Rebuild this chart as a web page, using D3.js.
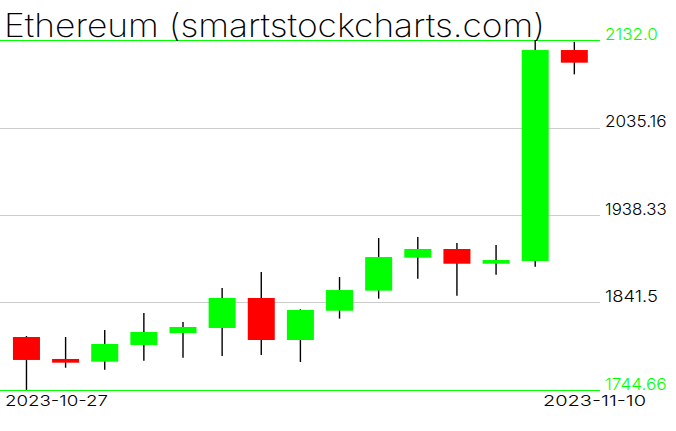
<!DOCTYPE html>
<html><head><meta charset="utf-8">
<script src="https://cdn.jsdelivr.net/npm/d3@7"></script>
<style>body{margin:0;background:#fff}svg{display:block}</style>
</head><body><svg id="c" width="676" height="431"></svg>
<script>
const dates = ["2023-10-27","2023-10-28","2023-10-29","2023-10-30","2023-10-31","2023-11-01","2023-11-02","2023-11-03","2023-11-04","2023-11-05","2023-11-06","2023-11-07","2023-11-08","2023-11-09","2023-11-10"];
const open  = [1803.3,1779.0,1776.0,1794.5,1807.7,1813.3,1846.5,1800.0,1832.4,1854.6,1891.1,1900.7,1884.4,1887.4,2120.9];
const high  = [1804.4,1803.3,1811.1,1829.9,1819.9,1857.5,1875.2,1834.0,1869.7,1912.9,1914.0,1907.3,1905.1,2132.0,2130.0];
const low   = [1744.66,1769.3,1767.1,1777.1,1780.4,1782.3,1783.4,1775.6,1823.6,1845.7,1867.8,1849.0,1872.3,1881.1,2094.0];
const close = [1777.9,1774.9,1795.6,1808.9,1814.4,1846.5,1800.0,1833.2,1855.3,1891.8,1900.7,1884.4,1888.5,2120.9,2106.9];
const yTicks = [2132.0,2035.16,1938.33,1841.5,1744.66];
const yTickLabels = ["2132.0","2035.16","1938.33","1841.5","1744.66"];
const title = "Ethereum (smartstockcharts.com)";

const svg = d3.select("#c");
const y = d3.scaleLinear().domain([1744.66, 2132.0]).range([390, 40]);
const x = d3.scaleBand().domain(dates).range([6.9, 593.9]).paddingInner(0.31).paddingOuter(0.155);
const font = "Inter, 'DejaVu Sans', sans-serif";

// grid lines
svg.selectAll("line.grid").data(yTicks).join("line")
  .attr("x1", 0).attr("x2", 600)
  .attr("y1", d => Math.round(y(d)) + 0.5).attr("y2", d => Math.round(y(d)) + 0.5)
  .attr("stroke", (d, i) => (i === 0 || i === yTicks.length - 1) ? "#00ff00" : "#cccccc")
  .attr("stroke-width", 1.2);

const data = dates.map((d, i) => ({d, o: open[i], h: high[i], l: low[i], c: close[i]}));
const cx = d => x(d.d) + x.bandwidth() / 2;

svg.selectAll("line.wick").data(data).join("line")
  .attr("x1", cx).attr("x2", cx)
  .attr("y1", d => y(d.h)).attr("y2", d => y(d.l))
  .attr("stroke", "#000").attr("stroke-width", 1.4);

svg.selectAll("rect.body").data(data).join("rect")
  .attr("x", d => x(d.d)).attr("width", x.bandwidth())
  .attr("y", d => y(Math.max(d.o, d.c)))
  .attr("height", d => Math.max(1.5, Math.abs(y(d.o) - y(d.c))))
  .attr("fill", d => d.c >= d.o ? "#00ff00" : "#ff0000");

// y labels
svg.selectAll("text.yl").data(yTicks).join("text")
  .attr("x", 605).attr("y", d => y(d) - 0.5)
  .attr("font-family", font).attr("font-size", 16).attr("font-weight", 300)
  .attr("fill", (d, i) => (i === 0 || i === yTicks.length - 1) ? "#00ff00" : "#000")
  .attr("textLength", (d, i) => yTickLabels[i].length * 8.8).attr("lengthAdjust", "spacingAndGlyphs")
  .text((d, i) => yTickLabels[i]);

// x labels
svg.append("text").attr("x", 5).attr("y", 406)
  .attr("font-family", font).attr("font-size", 15).attr("font-weight", 300).attr("fill", "#000")
  .attr("textLength", 103).attr("lengthAdjust", "spacingAndGlyphs")
  .text(dates[0]);
svg.append("text").attr("x", 543).attr("y", 406)
  .attr("font-family", font).attr("font-size", 15).attr("font-weight", 300).attr("fill", "#000")
  .attr("textLength", 103).attr("lengthAdjust", "spacingAndGlyphs")
  .text(dates[dates.length - 1]);

// title
svg.append("text").attr("x", 4).attr("y", 37)
  .attr("font-family", font).attr("font-size", 32).attr("font-weight", 200)
  .attr("fill", "#000").attr("textLength", 541).attr("lengthAdjust", "spacingAndGlyphs")
  .text(title);
</script></body></html>
